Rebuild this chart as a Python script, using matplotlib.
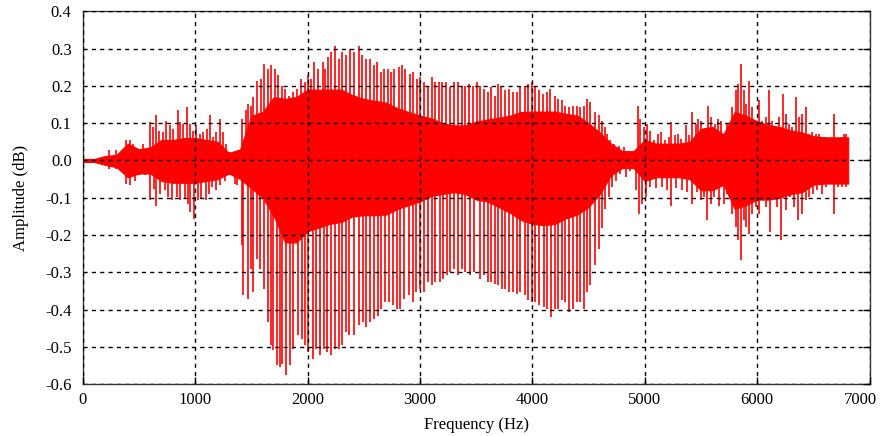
import numpy as np
import matplotlib
matplotlib.use('Agg')
import matplotlib.pyplot as plt
import matplotlib.transforms as mtransforms

# Solid body of the trace (inner envelope), read every 100 Hz.
body_f = [0, 100, 200, 300, 400, 500, 600, 700, 800, 900, 1000, 1100, 1200,
          1300, 1400, 1500, 1600, 1700, 1800, 1900, 2000, 2100, 2200, 2300,
          2400, 2500, 2600, 2700, 2800, 2900, 3000, 3100, 3200, 3300, 3400,
          3500, 3600, 3700, 3800, 3900, 4000, 4100, 4200, 4300, 4400, 4500,
          4600, 4700, 4800, 4900, 5000, 5100, 5200, 5300, 5400, 5500, 5600,
          5700, 5800, 5900, 6000, 6100, 6200, 6300, 6400, 6500, 6600, 6700,
          6810]
body_hi = [.004, .004, .012, .015, .045, .03, .035, .055, .055, .06, .06,
           .055, .05, .02, .03, .12, .13, .17, .165, .17, .19, .19, .19, .19,
           .175, .165, .16, .155, .14, .13, .12, .113, .10, .094, .094, .104,
           .11, .115, .12, .13, .131, .131, .131, .125, .12, .10, .075, .045,
           .025, .025, .055, .045, .045, .045, .05, .085, .09, .07, .13, .12,
           .105, .095, .09, .08, .075, .065, .062, .062, .062]
body_lo = [-.004, -.004, -.012, -.018, -.045, -.035, -.035, -.055, -.06,
           -.06, -.06, -.055, -.05, -.035, -.05, -.075, -.10, -.15, -.22,
           -.22, -.19, -.18, -.17, -.165, -.15, -.147, -.147, -.145, -.13,
           -.12, -.11, -.095, -.09, -.085, -.09, -.105, -.11, -.125, -.14,
           -.16, -.17, -.174, -.17, -.155, -.145, -.125, -.09, -.04, -.02,
           -.02, -.055, -.045, -.045, -.045, -.05, -.08, -.08, -.065, -.13,
           -.12, -.105, -.105, -.10, -.09, -.085, -.065, -.062, -.062, -.062]

# Upward peaks (Hz, amplitude)
up_f = [233, 299, 382, 417, 447, 536, 595, 625, 649, 679, 714, 744, 780, 803,
        848, 869, 892, 928, 952, 981, 1011, 1041, 1070, 1106, 1130, 1159,
        1189, 1219, 1243, 1278, 1308,
        1420, 1450, 1468, 1498, 1518, 1554, 1587, 1616, 1646, 1676, 1711,
        1741, 1776, 1800, 1836, 1874, 1904, 1943, 1978, 2008, 2032, 2061,
        2097, 2133, 2156, 2186, 2210, 2245, 2275, 2305, 2340, 2379, 2409,
        2454, 2484, 2522, 2552, 2588, 2617, 2653, 2677, 2712, 2742, 2766,
        2810, 2840, 2870, 2908, 2938, 2974, 3003, 3039, 3069, 3107, 3137,
        3167, 3196, 3235, 3270, 3300, 3336, 3374, 3404, 3434, 3472, 3508,
        3538, 3567, 3606, 3635, 3665, 3695, 3724, 3754, 3790, 3825, 3864,
        3894, 3932, 3962, 3998, 4027, 4063, 4093, 4131, 4161, 4199, 4229,
        4265, 4294, 4330, 4360, 4398, 4428, 4458, 4487, 4517, 4556, 4591,
        4621, 4645,
        4665, 4695, 4725, 4769, 4814, 4858, 4888, 4938, 4962, 4992, 5022,
        5051, 5081, 5116, 5146, 5176, 5214, 5235, 5265, 5295, 5324, 5363,
        5393, 5422, 5452, 5476, 5502, 5532, 5562, 5591, 5621, 5651, 5680,
        5734, 5778, 5808, 5829, 5853, 5882, 5903, 5927, 5956, 5992, 6016,
        6045, 6075, 6105, 6135, 6164, 6194, 6230, 6253, 6283, 6313, 6342,
        6372, 6402, 6431, 6461, 6491, 6520, 6550, 6580, 6609, 6639, 6684,
        6713, 6743, 6773, 6793]
up_v = [.027, .027, .055, .054, .045, .045, .103, .089, .121, .08, .076,
        .107, .094, .085, .134, .103, .098, .143, .098, .08, .094, .071, .076,
        .085, .121, .063, .076, .112, .076, .045, .022,
        .112, .134, .152, .147, .17, .214, .219, .259, .246, .255, .246, .228,
        .201, .192, .174, .183, .192, .219, .21, .228, .219, .264, .246, .264,
        .246, .277, .29, .308, .273, .29, .282, .30, .29,
        .308, .282, .273, .273, .255, .264, .237, .246, .246, .237, .246,
        .25, .255, .246, .232, .237, .219, .223, .21, .201, .223, .21, .21,
        .21, .21, .197, .21, .21, .201, .201, .206, .201, .21,
        .201, .192, .183, .197, .174, .206, .197, .188, .192, .183, .183,
        .197, .201, .206, .21, .197, .188, .179, .183, .192, .174, .165,
        .161, .147, .143, .147, .147, .143, .147, .165, .156, .13, .121,
        .107, .089,
        .071, .054, .045, .04, .036, .022, .018, .147, .112, .089, .098,
        .08, .054, .071, .076, .054, .063, .103, .067, .071, .058, .094,
        .067, .13, .098, .112, .107, .085, .147, .116, .098, .112, .107,
        .098, .143, .188, .206, .259, .188, .152, .214, .143, .107, .161,
        .107, .116, .188, .107, .089, .116, .179, .125, .098, .089, .17,
        .116, .125, .143, .071, .076, .071, .071, .054, .063, .054, .125,
        .054, .063, .071, .071]

# Downward peaks (Hz, amplitude)
dn_f = [233, 299, 388, 423, 462, 506, 551, 595, 631, 655, 690, 729, 759, 797,
        839, 869, 907, 937, 958, 987, 1026, 1056, 1094, 1124, 1153, 1189,
        1225, 1263, 1308, 1352, 1373,
        1414, 1429, 1468, 1498, 1518, 1548, 1578, 1616, 1652, 1676, 1696,
        1726, 1756, 1776, 1809, 1845, 1874, 1913, 1949, 1978, 2008, 2044,
        2073, 2112, 2142, 2171, 2210, 2240, 2275, 2305, 2340, 2370, 2409,
        2454, 2493, 2522, 2558, 2588, 2623, 2653, 2692, 2721, 2760, 2796,
        2825, 2861, 2899, 2938, 2968, 3003, 3039, 3069, 3107, 3137, 3175,
        3205, 3241, 3270, 3306, 3336, 3374, 3404, 3443, 3478,
        3538, 3567, 3606, 3635, 3665, 3695, 3730, 3760, 3790, 3825, 3864,
        3894, 3932, 3962, 3998, 4027, 4063, 4101, 4131, 4170, 4199, 4229,
        4265, 4294, 4330, 4360, 4398, 4428, 4458, 4487, 4517, 4556, 4591,
        4621, 4645,
        4680, 4710, 4740, 4784, 4829, 4873, 4918, 4947, 4977, 5007, 5051,
        5096, 5155, 5200, 5229, 5274, 5333, 5378, 5422, 5467, 5496, 5526,
        5556, 5585, 5615, 5660, 5704,
        5734, 5778, 5808, 5829, 5853, 5882, 5903, 5927, 5956, 5992, 6016,
        6045, 6075, 6114, 6149, 6179, 6215, 6253, 6289, 6327, 6363, 6396,
        6431, 6461, 6497, 6535, 6580, 6609, 6639, 6684, 6722, 6758, 6793]
dn_v = [-.022, -.022, -.063, -.067, -.054, -.04, -.04, -.107, -.076, -.121,
        -.089, -.08, -.098, -.107, -.098, -.107, -.103, -.116, -.139, -.156,
        -.107, -.103, -.107, -.089, -.071, -.08, -.067, -.054, -.04, -.063,
        -.067,
        -.228, -.362, -.371, -.29, -.353, -.264, -.29, -.344, -.433, -.496,
        -.509, -.55, -.554, -.545, -.576, -.55, -.505, -.469, -.478, -.496,
        -.514, -.532, -.505, -.523, -.505, -.514, -.523, -.505, -.505,
        -.496, -.46, -.469, -.469,
        -.442, -.433, -.447, -.433, -.424, -.416, -.398, -.38, -.38, -.389,
        -.398, -.398, -.371, -.362, -.38, -.353, -.344, -.353, -.326, -.335,
        -.326, -.326, -.317, -.308, -.299, -.29, -.308, -.29, -.299, -.308,
        -.299,
        -.317, -.308, -.326, -.326, -.331, -.335, -.344, -.344, -.353,
        -.353, -.357, -.353, -.362, -.375, -.38, -.38, -.389, -.393, -.398,
        -.42, -.398, -.398, -.375, -.38, -.407, -.398, -.38, -.38, -.398,
        -.353, -.335, -.281, -.237, -.18, -.13,
        -.098, -.071, -.054, -.036, -.045, -.027, -.08, -.143, -.116, -.098,
        -.07, -.075, -.07, -.08, -.121, -.075, -.08, -.085, -.116, -.085,
        -.107, -.098, -.161, -.116, -.098, -.121, -.116,
        -.089, -.143, -.179, -.214, -.268, -.161, -.179, -.197, -.143, -.125,
        -.143, -.089, -.125, -.192, -.107, -.125, -.214, -.134, -.098, -.125,
        -.161, -.143, -.107, -.098, -.089, -.08, -.089, -.071, -.063, -.143,
        -.071, -.071, -.071]

xticks = [0, 1000, 2000, 3000, 4000, 5000, 6000, 7000]
yticks = [-0.6, -0.5, -0.4, -0.3, -0.2, -0.1, 0.0, 0.1, 0.2, 0.3, 0.4]

plt.rcParams['font.family'] = ['Liberation Serif', 'DejaVu Serif']
plt.rcParams['axes.unicode_minus'] = False
plt.rcParams['font.size'] = 12

fig = plt.figure(figsize=(8.81, 4.36), dpi=100)
ax = fig.add_axes([0.094, 0.119, 0.893, 0.855])

red = '#ff0000'
ax.fill_between(body_f, body_lo, body_hi, color=red, lw=0.8, zorder=1)
ax.vlines(up_f, 0, up_v, color=red, lw=1.2, zorder=2)
ax.vlines(dn_f, 0, dn_v, color=red, lw=1.2, zorder=2)

ax.set_xlim(0, 7000)
ax.set_ylim(-0.6, 0.4)
ax.set_xticks(xticks)
ax.set_yticks(yticks)
ax.set_yticklabels(['%.1f' % v for v in yticks])
ax.set_axisbelow(False)
ax.grid(True, color='black', linestyle=(0, (3, 3)), lw=1.0)

ax.tick_params(axis='x', direction='in', length=5, width=1, pad=6)
ax.tick_params(axis='y', which='major', direction='in', length=5, width=1,
               right=True, left=False, pad=8)
for s in ax.spines.values():
    s.set_color('#333333')
    s.set_linewidth(1.0)

# the last x label sits a little left of its tick, as in the original
last = ax.get_xticklabels()[-1]
last.set_transform(last.get_transform() +
                   mtransforms.ScaledTranslation(-0.09, 0, fig.dpi_scale_trans))

ax.set_xlabel('Frequency (Hz)', labelpad=6)
ax.set_ylabel('Amplitude (dB)', labelpad=12)

fig.savefig('out.png', dpi=100)
